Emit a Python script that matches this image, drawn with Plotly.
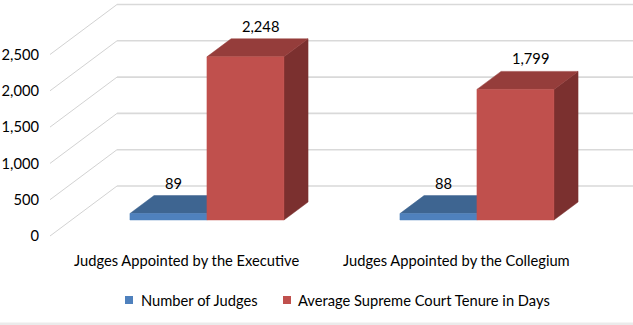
import plotly.graph_objects as go

# ---- data ----
categories = ["Judges Appointed by the Executive", "Judges Appointed by the Collegium"]
series_names = ["Number of Judges", "Average Supreme Court Tenure in Days"]
number_of_judges = [89, 88]
avg_tenure_days = [2248, 1799]
y_ticks = [0, 500, 1000, 1500, 2000, 2500]
y_tick_labels = ["0", "500", "1,000", "1,500", "2,000", "2,500"]

# ---- styling / geometry ----
W, H = 633, 325
ML = 50
FONT = "Lato"
FS = 14.7
front_col = ["#4F81BD", "#C0504D"]
top_col = ["#3E6591", "#953D3B"]
side_col = ["#345478", "#7B302F"]

px_per_cat = 270.0
cat0_px = 185.5
x_min = (ML - cat0_px) / px_per_cat
x_max = (W - cat0_px) / px_per_cat
y_px_per_unit = 181.5 / 2500.0
zero_px = 236.0
y_top = zero_px / y_px_per_unit
y_bot = -(H - zero_px) / y_px_per_unit

DX = 67.0 / px_per_cat          # full depth offset in x units
DY = 50.0 / y_px_per_unit        # full depth offset in value units
bar_w = 77.0 / px_per_cat
d0, d1 = 0.32, 0.68              # bar front/back depth fractions


def P(x, v, d):
    return x + d * DX, v + d * DY


fig = go.Figure()

# grid: diagonal side lines + back wall horizontals
for t in y_ticks:
    xa, ya = P(x_min, t, 0)
    xb, yb = P(x_min, t, 1)
    fig.add_trace(go.Scatter(x=[xa, xb], y=[ya, yb], mode="lines",
                             line=dict(color="#D2D2D2", width=1),
                             hoverinfo="skip", showlegend=False))
    fig.add_trace(go.Scatter(x=[xb, x_max + 1], y=[yb, yb], mode="lines",
                             line=dict(color="#D9D9D9", width=1.6),
                             hoverinfo="skip", showlegend=False))


def poly(pts, color):
    xs = [p[0] for p in pts] + [pts[0][0]]
    ys = [p[1] for p in pts] + [pts[0][1]]
    fig.add_trace(go.Scatter(x=xs, y=ys, mode="lines", fill="toself",
                             fillcolor=color, line=dict(color=color, width=0.5),
                             hoverinfo="skip", showlegend=False))


series = [number_of_judges, avg_tenure_days]
for ci in range(len(categories)):
    for si, vals in enumerate(series):
        v = vals[ci]
        xl = ci - bar_w + si * bar_w
        xr = xl + bar_w
        # side
        poly([P(xr, 0, d0), P(xr, 0, d1), P(xr, v, d1), P(xr, v, d0)], side_col[si])
        # top
        poly([P(xl, v, d0), P(xr, v, d0), P(xr, v, d1), P(xl, v, d1)], top_col[si])
        # front
        poly([P(xl, 0, d0), P(xr, 0, d0), P(xr, v, d0), P(xl, v, d0)], front_col[si])
        lx, ly = P((xl + xr) / 2, v, 0.5)
        fig.add_annotation(x=lx, y=ly, text=f"{v:,}", showarrow=False,
                           xanchor="center", yanchor="bottom",
                           xshift=-7 if si == 0 else 3, yshift=11,
                           font=dict(family=FONT, size=FS, color="#000000"))

# category labels
for ci, c in enumerate(categories):
    fig.add_annotation(x=ci, y=1 - 260 / H, yref="paper", text=c, showarrow=False,
                       xanchor="center", yanchor="middle", xshift=1,
                       font=dict(family=FONT, size=FS, color="#000000"))

# manual legend
leg_items = [(125, 139), (283, 296)]
for si, name in enumerate(series_names):
    sx, tx = leg_items[si]
    fig.add_shape(type="rect", xref="paper", yref="paper",
                  x0=(sx - ML) / (W - ML), x1=(sx + 8 - ML) / (W - ML),
                  y0=1 - 304 / H, y1=1 - 296 / H,
                  fillcolor=front_col[si], line=dict(width=0))
    fig.add_annotation(x=(tx - ML) / (W - ML), y=1 - 300 / H, xref="paper", yref="paper",
                       text=name, showarrow=False, xanchor="left", yanchor="middle",
                       font=dict(family=FONT, size=FS, color="#000000"))

# bottom strip
fig.add_shape(type="rect", xref="paper", yref="paper", x0=-ML / (W - ML), x1=1,
              y0=0, y1=2.5 / H, fillcolor="#EBEBEB", line=dict(width=0), layer="below")

fig.update_layout(
    width=W, height=H,
    margin=dict(l=ML, r=0, t=0, b=0),
    paper_bgcolor="white", plot_bgcolor="white",
    showlegend=False,
    xaxis=dict(range=[x_min, x_max], visible=False, fixedrange=True),
    yaxis=dict(range=[y_bot, y_top], showgrid=False, zeroline=False, showline=False,
               tickvals=y_ticks, ticktext=y_tick_labels, ticks="",
               ticklabelstandoff=10,
               tickfont=dict(family=FONT, size=FS, color="#000000")),
)

fig.write_html("out.html")
